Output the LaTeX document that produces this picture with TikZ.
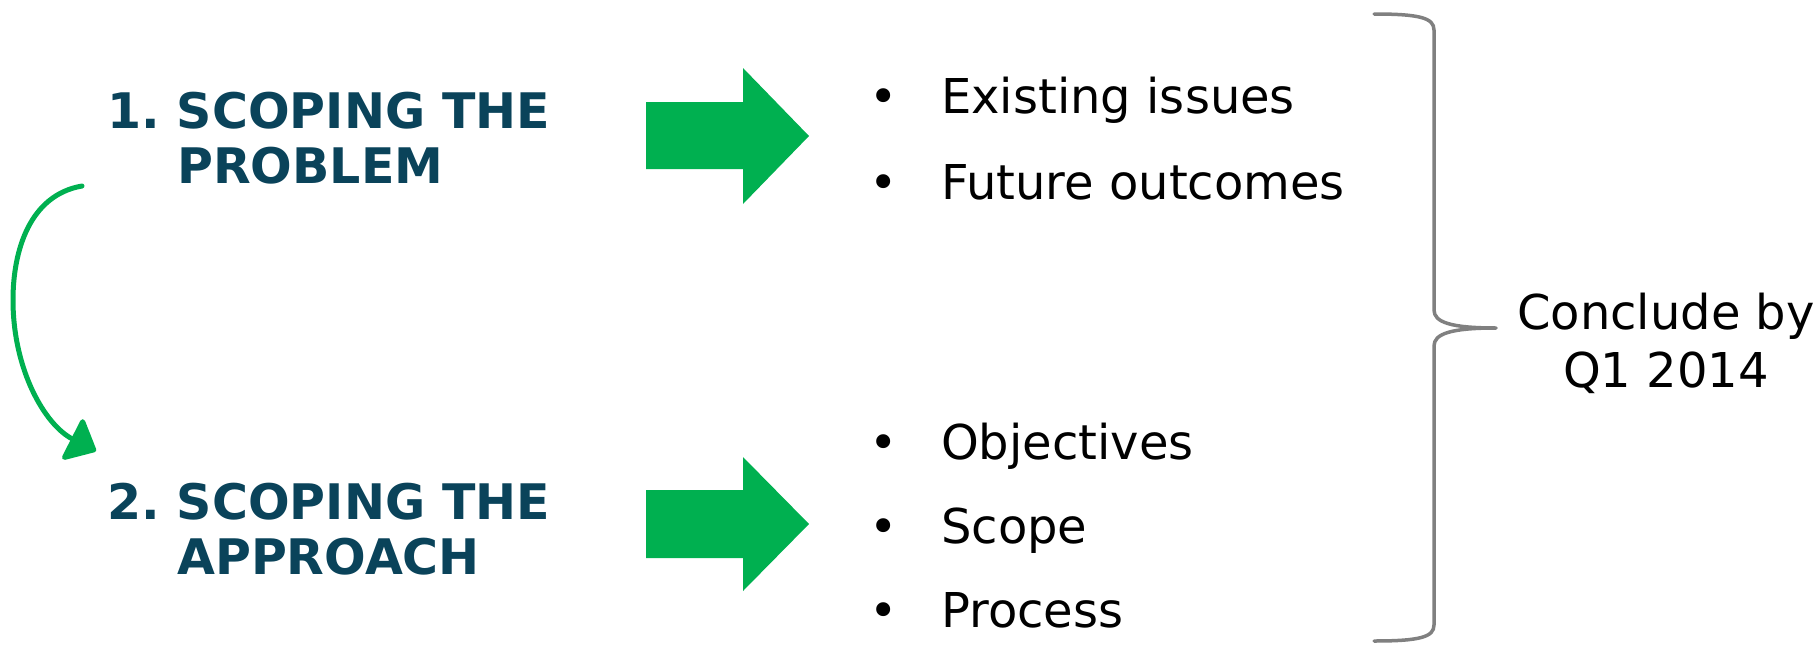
\documentclass[tikz,border=0pt]{standalone}
\usepackage{fontspec}
\setmainfont{DejaVu Sans}
\usetikzlibrary{arrows.meta}
\definecolor{titleblue}{HTML}{0A435A}
\definecolor{arrowgreen}{HTML}{00B050}
\definecolor{bracegray}{HTML}{808080}
\frenchspacing
\begin{document}
\begin{tikzpicture}[x=1pt,y=-1pt,
  title/.style={inner sep=0pt, align=left, text=titleblue,
    font=\fontsize{49}{55}\selectfont\bfseries},
  item/.style={inner sep=0pt, anchor=base west, font=\fontsize{48}{58}\selectfont},
  concl/.style={inner sep=0pt, align=center, font=\fontsize{48}{58}\selectfont},
  blockarrow/.style={fill=arrowgreen, draw=none},
  brace/.style={draw=bracegray, line width=3.5pt, line cap=round, line join=round},
  curvearrow/.style={draw=arrowgreen, line width=5pt, line cap=round,
    -{Triangle[length=29pt,width=50pt,round]}}]
\useasboundingbox (0,0) rectangle (1818,645);

% titles (base anchor = baseline of last line)
\node[title, anchor=base west] (t1) at (107,183) {1. SCOPING THE\\\hspace*{70pt}PROBLEM};
\node[title, anchor=base west] (t2) at (107,574) {2. SCOPING THE\\\hspace*{70pt}APPROACH};

% curved arrow
\coordinate (cs) at (82,186);
\coordinate (ce) at (96,451);
\draw[curvearrow] (cs) .. controls (30,195) and (13,250) .. (13,300)
  .. controls (13,370) and (45,425) .. (ce);

% block arrows
\fill[blockarrow] (646,102) -- (743,102) -- (743,68) -- (809,136) -- (743,204) -- (743,169) -- (646,169) -- cycle;
\fill[blockarrow] (646,490) -- (743,490) -- (743,457) -- (809,524) -- (743,591) -- (743,558) -- (646,558) -- cycle;

% bullet items
\node[item] (b1) at (869,113) {\makebox[72pt][l]{•}Existing issues};
\node[item] (b2) at (869,199) {\makebox[72pt][l]{•}Future outcomes};
\node[item] (b3) at (869,459) {\makebox[72pt][l]{•}Objectives};
\node[item] (b4) at (869,543) {\makebox[72pt][l]{•}Scope};
\node[item] (b5) at (869,627) {\makebox[72pt][l]{•}Process};

% brace
\coordinate (bt) at (1374,14);
\coordinate (bm) at (1496,328);
\coordinate (bb) at (1374,641);
\draw[brace] (bt) .. controls (1420,14) and (1434,18) .. (1434,30) -- (1434,310)
  .. controls (1434,322) and (1450,328) .. (bm)
  .. controls (1450,328) and (1434,334) .. (1434,346) -- (1434,625)
  .. controls (1434,637) and (1420,641) .. (bb);

% conclusion (base anchor = baseline of last line)
\node[concl, anchor=base] (c) at (1666,387) {Conclude by\\Q1 2014};
\end{tikzpicture}
\end{document}
